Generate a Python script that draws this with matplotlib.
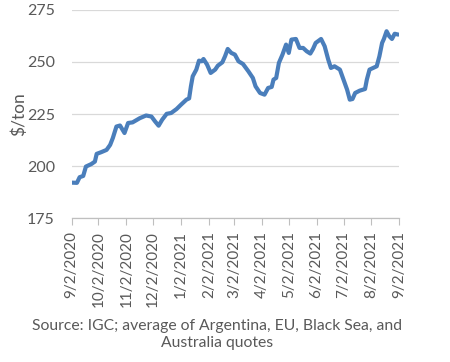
import matplotlib
matplotlib.use("Agg")
import matplotlib.pyplot as plt
import pandas as pd

dates = ["2020-09-02", "2020-09-08", "2020-09-11", "2020-09-15", "2020-09-18", "2020-09-24",
         "2020-09-28", "2020-09-30", "2020-10-05", "2020-10-11", "2020-10-15", "2020-10-18",
         "2020-10-22", "2020-10-26", "2020-10-31", "2020-11-04", "2020-11-09", "2020-11-17",
         "2020-11-24", "2020-11-30", "2020-12-04", "2020-12-08", "2020-12-12", "2020-12-17",
         "2020-12-22", "2020-12-28", "2021-01-02", "2021-01-08", "2021-01-11", "2021-01-13",
         "2021-01-15", "2021-01-19", "2021-01-22", "2021-01-25", "2021-01-27", "2021-01-31",
         "2021-02-04", "2021-02-09", "2021-02-12", "2021-02-17", "2021-02-20", "2021-02-23",
         "2021-02-27", "2021-03-03", "2021-03-07", "2021-03-12", "2021-03-18", "2021-03-23",
         "2021-03-26", "2021-03-31", "2021-04-05", "2021-04-09", "2021-04-13", "2021-04-15",
         "2021-04-18", "2021-04-21", "2021-04-25", "2021-04-29", "2021-05-02", "2021-05-05",
         "2021-05-10", "2021-05-14", "2021-05-18", "2021-05-22", "2021-05-26", "2021-05-29",
         "2021-06-01", "2021-06-07", "2021-06-11", "2021-06-15", "2021-06-18", "2021-06-22",
         "2021-06-28", "2021-07-02", "2021-07-06", "2021-07-09", "2021-07-12", "2021-07-15",
         "2021-07-20", "2021-07-26", "2021-07-28", "2021-07-31", "2021-08-04", "2021-08-08",
         "2021-08-11", "2021-08-14", "2021-08-16", "2021-08-19", "2021-08-22", "2021-08-25",
         "2021-08-28", "2021-09-01"]
prices = [192.1, 192.0, 194.7, 195.3, 199.8, 201.0,
          202.2, 205.9, 206.7, 207.8, 210.2, 213.5,
          219.0, 219.5, 215.9, 220.7, 221.0, 223.0,
          224.3, 223.8, 221.5, 219.4, 222.3, 225.1,
          225.5, 227.4, 229.5, 231.9, 232.5, 238.3,
          243.1, 246.3, 250.6, 250.3, 251.4, 248.7,
          244.7, 246.3, 248.2, 249.8, 252.7, 256.2,
          254.3, 253.5, 250.3, 249.0, 245.5, 242.3,
          238.3, 235.1, 234.3, 237.5, 238.0, 241.5,
          242.3, 249.5, 253.5, 258.3, 254.3, 260.7,
          261.0, 256.7, 256.7, 255.1, 254.0, 256.2,
          259.1, 261.0, 257.5, 251.1, 247.1, 247.9,
          246.3, 241.5, 236.7, 231.9, 232.2, 235.1,
          236.2, 237.0, 241.5, 246.3, 247.1, 247.9,
          252.7, 259.1, 261.0, 264.7, 262.3, 261.0,
          263.5, 263.1]

tick_dates = ["2020-09-02", "2020-10-02", "2020-11-02", "2020-12-02", "2021-01-02",
              "2021-02-02", "2021-03-02", "2021-04-02", "2021-05-02", "2021-06-02",
              "2021-07-02", "2021-08-02", "2021-09-02"]
tick_labels = ["9/2/2020", "10/2/2020", "11/2/2020", "12/2/2020", "1/2/2021",
               "2/2/2021", "3/2/2021", "4/2/2021", "5/2/2021", "6/2/2021",
               "7/2/2021", "8/2/2021", "9/2/2021"]
y_ticks = [175, 200, 225, 250, 275]

plt.rcParams['font.family'] = ['Lato', 'DejaVu Sans']
text_col = "#595959"

fig = plt.figure(figsize=(4.5, 3.62), dpi=100)
ax = fig.add_axes([0.159, 0.397, 0.728, 0.576])

x = pd.to_datetime(dates)
ax.plot(x, prices, color="#4A7EBB", linewidth=3.0, solid_capstyle="round",
        solid_joinstyle="round", zorder=3)

ax.set_ylim(175, 275)
ax.set_yticks(y_ticks)
ax.set_xlim(pd.Timestamp(tick_dates[0]), pd.Timestamp(tick_dates[-1]))
ax.set_xticks(pd.to_datetime(tick_dates))
ax.set_xticklabels(tick_labels, rotation=90, fontsize=11, color=text_col)
ax.tick_params(axis='y', length=0, pad=12, labelsize=11.5, labelcolor=text_col)
ax.tick_params(axis='x', length=5, width=0.8, color="#BFBFBF", pad=4)

ax.grid(axis='y', color="#D9D9D9", linewidth=0.9, zorder=0)
for s in ["left", "right", "top"]:
    ax.spines[s].set_visible(False)
ax.spines["bottom"].set_color("#BFBFBF")
ax.spines["bottom"].set_linewidth(0.9)

ax.set_ylabel("$/ton", fontsize=12.5, color=text_col, va="center")
ax.yaxis.set_label_coords(-0.16, 0.5)

fig.text(0.483, 0.075, "Source: IGC; average of Argentina, EU, Black Sea, and\nAustralia quotes",
         ha="center", va="center", fontsize=11.3, color=text_col, linespacing=1.3)

fig.savefig("out.png", dpi=100)
